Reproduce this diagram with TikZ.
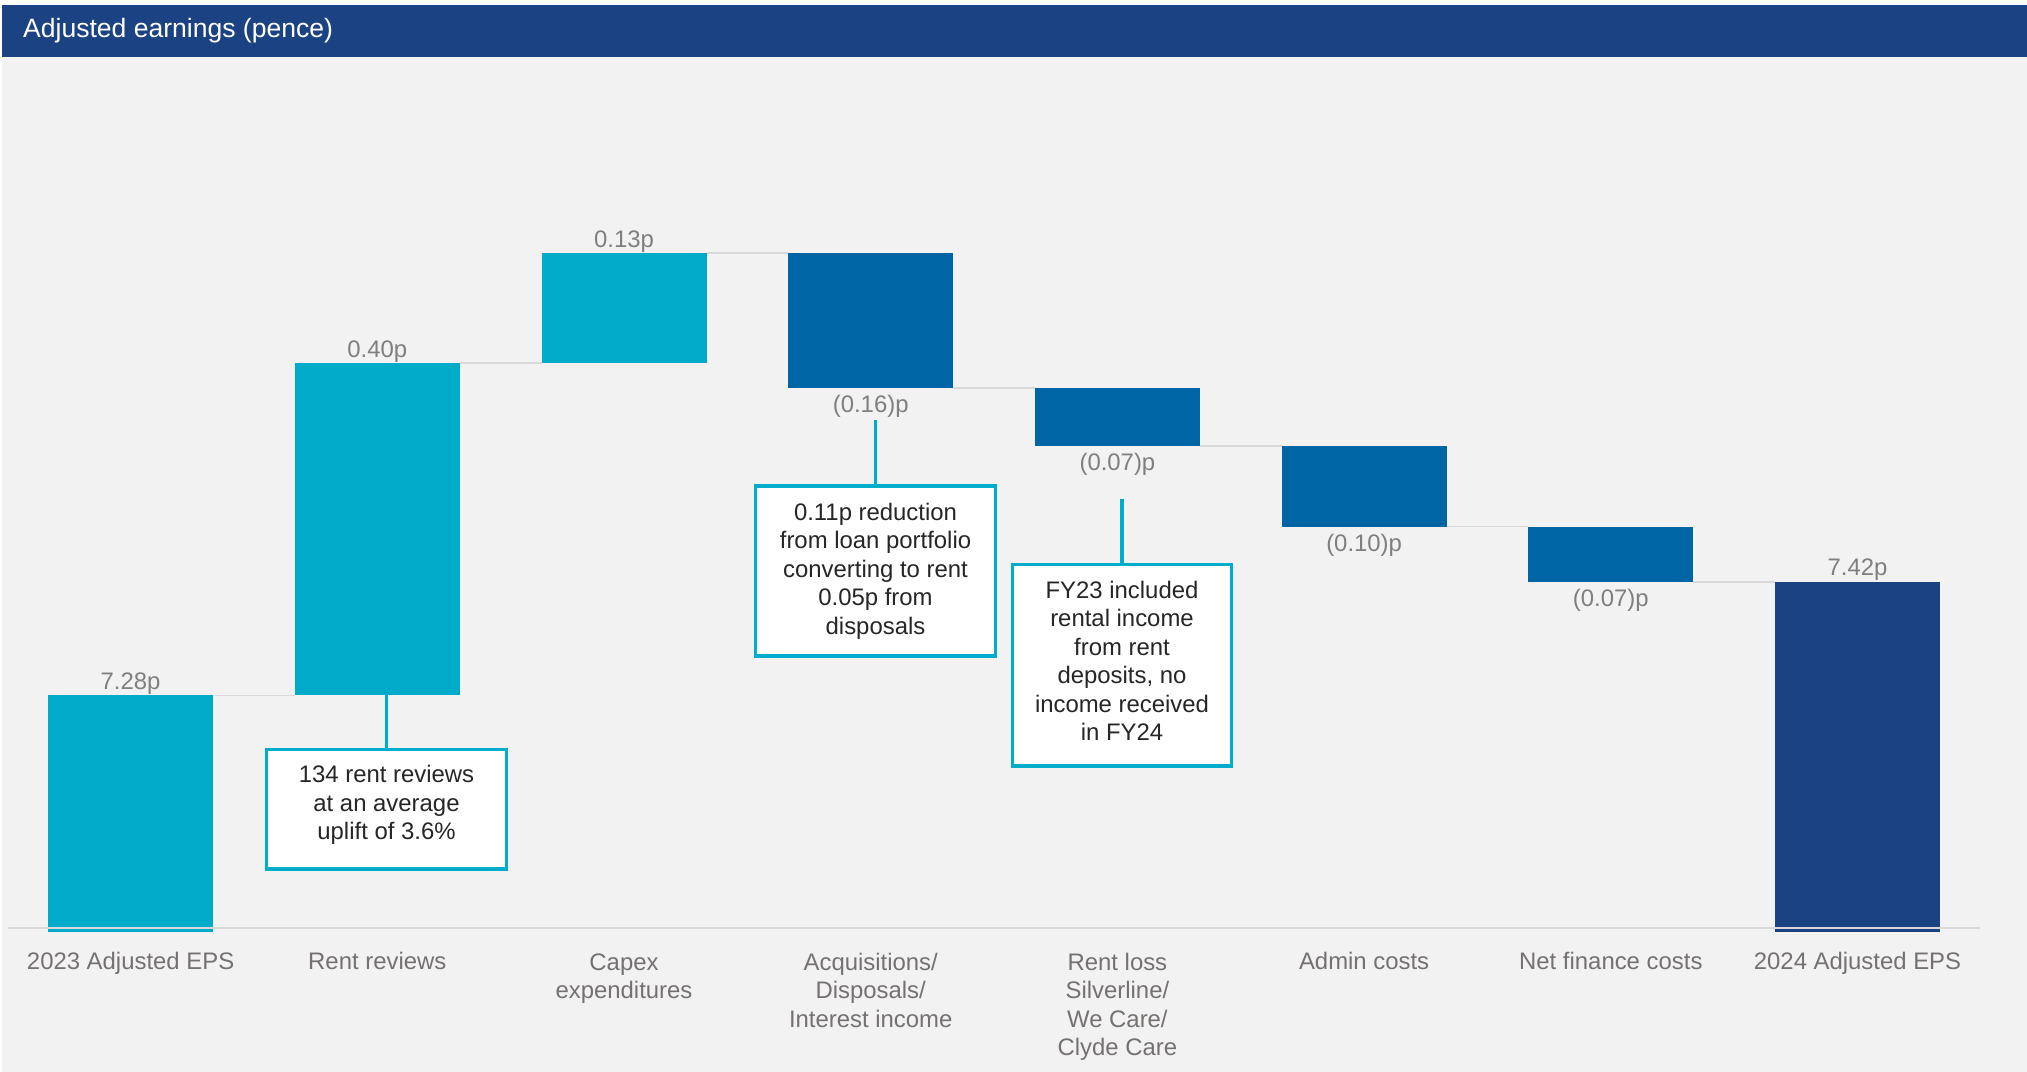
\documentclass[tikz,border=0pt]{standalone}
\usepackage{fontspec}
\setmainfont{Liberation Sans}
\definecolor{hdrblue}{HTML}{1B4282}
\definecolor{upbar}{HTML}{00ABC9}
\definecolor{downbar}{HTML}{0065A4}
\definecolor{panelgray}{HTML}{F2F2F2}
\definecolor{linegray}{HTML}{D9D9D9}
\definecolor{valgray}{HTML}{7F7F7F}
\definecolor{catgray}{HTML}{767171}
\definecolor{noteline}{HTML}{00AECB}
\definecolor{notetext}{HTML}{262626}

\begin{document}
\begin{tikzpicture}[
  val/.style={anchor=base, inner sep=0pt, text=valgray, font=\fontsize{6.8}{8.1}\selectfont},
  cat/.style={anchor=base, inner sep=0pt, align=center, text=catgray, font=\fontsize{6.8}{8.1}\selectfont},
  note/.style={draw=noteline, line width=1pt, fill=white, text=notetext, align=center, inner sep=0pt, font=\fontsize{6.8}{8.1}\selectfont},
  link/.style={draw=linegray, line width=0.5pt}]
\useasboundingbox (0,0) rectangle (20.27,10.72);
\fill[white] (0,0) rectangle (20.27,10.72);
\fill[panelgray] (0.02,0) rectangle (20.27,10.15);
\fill[hdrblue] (0.02,10.15) rectangle (20.27,10.67);
\node[anchor=base west, inner sep=0pt, text=white, font=\fontsize{7.55}{9}\selectfont] (title) at (0.225,10.345) {Adjusted earnings (pence)};

\fill[upbar] (0.481,1.40) rectangle (2.131,3.765);
\fill[upbar] (2.948,3.765) rectangle (4.598,7.087);
\fill[upbar] (5.415,7.087) rectangle (7.065,8.186);
\fill[downbar] (7.882,8.186) rectangle (9.532,6.84);
\fill[downbar] (10.349,6.84) rectangle (11.999,6.257);
\fill[downbar] (12.816,6.257) rectangle (14.466,5.454);
\fill[downbar] (15.283,5.454) rectangle (16.933,4.90);
\fill[hdrblue] (17.750,1.40) rectangle (19.400,4.90);

\draw[link] (2.131,3.765) -- (2.948,3.765);
\draw[link] (4.598,7.087) -- (5.415,7.087);
\draw[link] (7.065,8.186) -- (7.882,8.186);
\draw[link] (9.532,6.84) -- (10.349,6.84);
\draw[link] (11.999,6.257) -- (12.816,6.257);
\draw[link] (14.466,5.454) -- (15.283,5.454);
\draw[link] (16.933,4.90) -- (17.750,4.90);
\draw[linegray, line width=0.7pt] (0.08,1.44) -- (19.80,1.44);

\node[val] (v0) at (1.306,3.825) {7.28p};
\node[val] (v1) at (3.773,7.147) {0.40p};
\node[val] (v2) at (6.240,8.246) {0.13p};
\node[val] (v3) at (8.707,6.595) {(0.16)p};
\node[val] (v4) at (11.174,6.012) {(0.07)p};
\node[val] (v5) at (13.641,5.209) {(0.10)p};
\node[val] (v6) at (16.108,4.655) {(0.07)p};
\node[val] (v7) at (18.575,4.96) {7.42p};

\node[cat] (c0) at (1.306,1.02) {2023 Adjusted EPS};
\node[cat] (c1) at (3.773,1.02) {Rent reviews};
\node[cat] (c2) at (6.240,0.734) {Capex\\expenditures};
\node[cat] (c3) at (8.707,0.449) {Acquisitions/\\Disposals/\\Interest income};
\node[cat] (c4) at (11.174,0.163) {Rent loss\\Silverline/\\We Care/\\Clyde Care};
\node[cat] (c5) at (13.641,1.02) {Admin costs};
\node[cat] (c6) at (16.108,1.02) {Net finance costs};
\node[cat] (c7) at (18.575,1.02) {2024 Adjusted EPS};

\coordinate (t1) at (3.865,3.765);
\coordinate (t2) at (8.755,6.52);
\coordinate (t3) at (11.22,5.727);
\node[note, minimum width=2.40cm, minimum height=1.195cm, text depth=0.13cm] (n1) at (3.865,2.628) {134 rent reviews\\at an average\\uplift of 3.6\%};
\node[note, minimum width=2.40cm, minimum height=1.70cm] (n2) at (8.755,5.01) {0.11p reduction\\from loan portfolio\\converting to rent\\0.05p from\\disposals};
\node[note, minimum width=2.19cm, minimum height=2.015cm, text depth=0.085cm] (n3) at (11.22,4.068) {FY23 included\\rental income\\from rent\\deposits, no\\income received\\in FY24};
\draw[noteline, line width=1pt] (t1) -- (n1.north);
\draw[noteline, line width=1pt] (t2) -- (n2.north);
\draw[noteline, line width=1pt] (t3) -- (n3.north);
\end{tikzpicture}
\end{document}
